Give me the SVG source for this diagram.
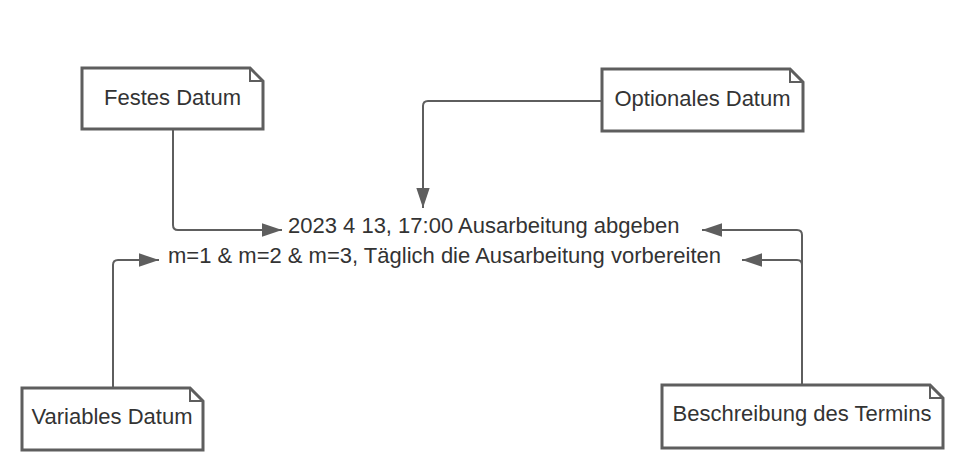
<svg xmlns="http://www.w3.org/2000/svg" width="960" height="469" viewBox="0 0 960 469">
<style>
.box{fill:#fff;stroke:#5e5e5e;stroke-width:3;stroke-linejoin:miter}
.fold{fill:none;stroke:#5e5e5e;stroke-width:2}
.lbl{font-family:"Liberation Sans",Arial,sans-serif;font-size:22px;fill:#333}
.conn{fill:none;stroke:#5e5e5e;stroke-width:2}
</style>
<defs>
<marker id="ah" markerUnits="userSpaceOnUse" markerWidth="20" markerHeight="14" viewBox="0 0 18 12" refX="18" refY="6" orient="auto">
<path d="M0,0 L18,6 L0,12 Z" fill="#5e5e5e"/>
</marker>
</defs>
<rect width="960" height="469" fill="#fff"/>
<g id="connectors">
<path class="conn" d="M173,130 V225 Q173,230 178,230 H282" marker-end="url(#ah)"/>
<path class="conn" d="M602,101 H428 Q423,101 423,106 V208" marker-end="url(#ah)"/>
<path class="conn" d="M802,385 V235 Q802,230 797,230 H702" marker-end="url(#ah)"/>
<path class="conn" d="M802,265 Q802,260 797,260 H742" marker-end="url(#ah)"/>
<path class="conn" d="M113,388 V265 Q113,260 118,260 H159" marker-end="url(#ah)"/>
</g>
<g id="festes-datum">
<path class="box" d="M82,68 H250 L263,81 V129 H82 Z"/>
<path class="fold" d="M250,68 V81 H263"/>
<text class="lbl" x="172.5" y="105" text-anchor="middle">Festes Datum</text>
</g>
<g id="optionales-datum">
<path class="box" d="M602,69 H790 L803,82 V131 H602 Z"/>
<path class="fold" d="M790,69 V82 H803"/>
<text class="lbl" x="702.5" y="106" text-anchor="middle">Optionales Datum</text>
</g>
<g id="variables-datum">
<path class="box" d="M22,388 H190 L203,401 V450 H22 Z"/>
<path class="fold" d="M190,388 V401 H203"/>
<text class="lbl" x="112" y="424" text-anchor="middle">Variables Datum</text>
</g>
<g id="beschreibung">
<path class="box" d="M662,385 H930 L943,398 V448 H662 Z"/>
<path class="fold" d="M930,385 V398 H943"/>
<text class="lbl" x="802" y="421" text-anchor="middle">Beschreibung des Termins</text>
</g>
<g id="termin-1">
<text class="lbl" x="288" y="233">2023 4 13, 17:00 Ausarbeitung abgeben</text>
</g>
<g id="termin-2">
<text class="lbl" x="168" y="263">m=1 &amp; m=2 &amp; m=3, Täglich die Ausarbeitung vorbereiten</text>
</g>
</svg>
